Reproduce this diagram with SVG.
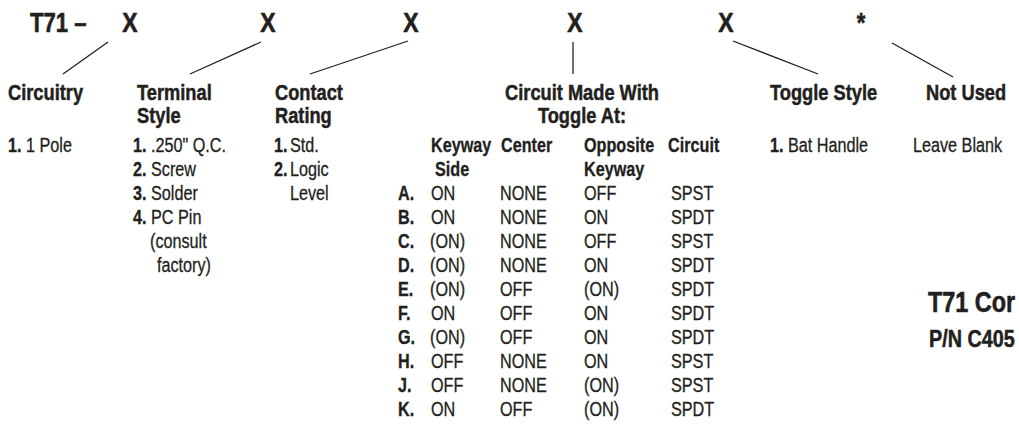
<svg xmlns="http://www.w3.org/2000/svg" width="1019" height="424" viewBox="0 0 1019 424">
<style>
text{font-family:"Liberation Sans",Arial,sans-serif;fill:#231f20;stroke:#231f20;stroke-width:.3}
.t{font-size:27px;font-weight:bold;stroke-width:.6}
.h{font-size:22px;font-weight:bold;stroke-width:.5}
.c{font-size:20px}
.k{font-weight:bold}
.m{text-anchor:middle}
.conn line{stroke:#231f20;stroke-width:1.3}
</style>
<rect width="1019" height="424" fill="#fff"/>
<g id="code">
<text class="t" transform="translate(30 32) scale(.82 1)">T71 –</text>
<text class="t m" transform="translate(130 32) scale(.85 1)">X</text>
<text class="t m" transform="translate(268 32) scale(.85 1)">X</text>
<text class="t m" transform="translate(411 32) scale(.85 1)">X</text>
<text class="t m" transform="translate(575 32) scale(.85 1)">X</text>
<text class="t m" transform="translate(726 32) scale(.85 1)">X</text>
<text class="t m" transform="translate(861 32) scale(.82 1)">*</text>
</g>
<g id="connectors" class="conn">
<line x1="108" y1="42" x2="63" y2="74"/>
<line x1="261" y1="42" x2="190" y2="74"/>
<line x1="408" y1="41" x2="310" y2="74"/>
<line x1="573" y1="42" x2="573" y2="74"/>
<line x1="733" y1="41" x2="818" y2="74"/>
<line x1="892" y1="43" x2="953" y2="77"/>
</g>
<g id="circuitry">
<text class="h" transform="translate(8 100) scale(.83 1)">Circuitry</text>
<text class="c" transform="translate(8 152) scale(.81 1)"><tspan class="k">1.</tspan> 1 Pole</text>
</g>
<g id="terminal-style">
<text class="h" transform="translate(137 100) scale(.83 1)">Terminal</text>
<text class="h" transform="translate(137 123) scale(.83 1)">Style</text>
<text class="c" transform="translate(133 152) scale(.81 1)"><tspan class="k">1.</tspan> .250" Q.C.</text>
<text class="c" transform="translate(133 176) scale(.81 1)"><tspan class="k">2.</tspan> Screw</text>
<text class="c" transform="translate(133 200) scale(.81 1)"><tspan class="k">3.</tspan> Solder</text>
<text class="c" transform="translate(133 224) scale(.81 1)"><tspan class="k">4.</tspan> PC Pin</text>
<text class="c" transform="translate(150 248) scale(.81 1)">(consult</text>
<text class="c" transform="translate(157 272) scale(.81 1)">factory)</text>
</g>
<g id="contact-rating">
<text class="h" transform="translate(275 100) scale(.83 1)">Contact</text>
<text class="h" transform="translate(275 123) scale(.83 1)">Rating</text>
<text class="c k" transform="translate(274 152) scale(.81 1)">1.</text>
<text class="c" transform="translate(290 152) scale(.81 1)">Std.</text>
<text class="c k" transform="translate(274 176) scale(.81 1)">2.</text>
<text class="c" transform="translate(290 176) scale(.81 1)">Logic</text>
<text class="c" transform="translate(290 200) scale(.81 1)">Level</text>
</g>
<g id="circuit-made">
<text class="h m" transform="translate(582 100) scale(.83 1)">Circuit Made With</text>
<text class="h m" transform="translate(582 123) scale(.83 1)">Toggle At:</text>
<text class="c k" transform="translate(431 152) scale(.81 1)">Keyway</text>
<text class="c k" transform="translate(435 176) scale(.81 1)">Side</text>
<text class="c k" transform="translate(501 152) scale(.81 1)">Center</text>
<text class="c k" transform="translate(584 152) scale(.81 1)">Opposite</text>
<text class="c k" transform="translate(584 176) scale(.81 1)">Keyway</text>
<text class="c k" transform="translate(668 152) scale(.81 1)">Circuit</text>
<text class="c k" transform="translate(398 200) scale(.81 1)">A.</text>
<text class="c" transform="translate(431 200) scale(.81 1)">ON</text>
<text class="c" transform="translate(500 200) scale(.81 1)">NONE</text>
<text class="c" transform="translate(584 200) scale(.81 1)">OFF</text>
<text class="c" transform="translate(671 200) scale(.81 1)">SPST</text>
<text class="c k" transform="translate(398 224) scale(.81 1)">B.</text>
<text class="c" transform="translate(431 224) scale(.81 1)">ON</text>
<text class="c" transform="translate(500 224) scale(.81 1)">NONE</text>
<text class="c" transform="translate(584 224) scale(.81 1)">ON</text>
<text class="c" transform="translate(671 224) scale(.81 1)">SPDT</text>
<text class="c k" transform="translate(398 248) scale(.81 1)">C.</text>
<text class="c" transform="translate(430 248) scale(.81 1)">(ON)</text>
<text class="c" transform="translate(500 248) scale(.81 1)">NONE</text>
<text class="c" transform="translate(584 248) scale(.81 1)">OFF</text>
<text class="c" transform="translate(671 248) scale(.81 1)">SPST</text>
<text class="c k" transform="translate(398 272) scale(.81 1)">D.</text>
<text class="c" transform="translate(430 272) scale(.81 1)">(ON)</text>
<text class="c" transform="translate(500 272) scale(.81 1)">NONE</text>
<text class="c" transform="translate(584 272) scale(.81 1)">ON</text>
<text class="c" transform="translate(671 272) scale(.81 1)">SPDT</text>
<text class="c k" transform="translate(398 296) scale(.81 1)">E.</text>
<text class="c" transform="translate(430 296) scale(.81 1)">(ON)</text>
<text class="c" transform="translate(500 296) scale(.81 1)">OFF</text>
<text class="c" transform="translate(584 296) scale(.81 1)">(ON)</text>
<text class="c" transform="translate(671 296) scale(.81 1)">SPDT</text>
<text class="c k" transform="translate(398 320) scale(.81 1)">F.</text>
<text class="c" transform="translate(431 320) scale(.81 1)">ON</text>
<text class="c" transform="translate(500 320) scale(.81 1)">OFF</text>
<text class="c" transform="translate(584 320) scale(.81 1)">ON</text>
<text class="c" transform="translate(671 320) scale(.81 1)">SPDT</text>
<text class="c k" transform="translate(398 344) scale(.81 1)">G.</text>
<text class="c" transform="translate(430 344) scale(.81 1)">(ON)</text>
<text class="c" transform="translate(500 344) scale(.81 1)">OFF</text>
<text class="c" transform="translate(584 344) scale(.81 1)">ON</text>
<text class="c" transform="translate(671 344) scale(.81 1)">SPDT</text>
<text class="c k" transform="translate(398 368) scale(.81 1)">H.</text>
<text class="c" transform="translate(431 368) scale(.81 1)">OFF</text>
<text class="c" transform="translate(500 368) scale(.81 1)">NONE</text>
<text class="c" transform="translate(584 368) scale(.81 1)">ON</text>
<text class="c" transform="translate(671 368) scale(.81 1)">SPST</text>
<text class="c k" transform="translate(398 392) scale(.81 1)">J.</text>
<text class="c" transform="translate(431 392) scale(.81 1)">OFF</text>
<text class="c" transform="translate(500 392) scale(.81 1)">NONE</text>
<text class="c" transform="translate(584 392) scale(.81 1)">(ON)</text>
<text class="c" transform="translate(671 392) scale(.81 1)">SPST</text>
<text class="c k" transform="translate(398 416) scale(.81 1)">K.</text>
<text class="c" transform="translate(431 416) scale(.81 1)">ON</text>
<text class="c" transform="translate(500 416) scale(.81 1)">OFF</text>
<text class="c" transform="translate(584 416) scale(.81 1)">(ON)</text>
<text class="c" transform="translate(671 416) scale(.81 1)">SPDT</text>
</g>
<g id="toggle-style">
<text class="h" transform="translate(770 100) scale(.83 1)">Toggle Style</text>
<text class="c" transform="translate(770 152) scale(.81 1)"><tspan class="k">1.</tspan> Bat Handle</text>
</g>
<g id="not-used">
<text class="h" transform="translate(926 100) scale(.83 1)">Not Used</text>
<text class="c" transform="translate(913 152) scale(.81 1)">Leave Blank</text>
</g>
<g id="title">
<text class="k" style="font-size:30px;stroke-width:.6" transform="translate(928 312) scale(.78 1)">T71 Cor</text>
<text class="k" style="font-size:23px;stroke-width:.5" transform="translate(929 347) scale(.86 1)">P/N C405</text>
</g>
</svg>
